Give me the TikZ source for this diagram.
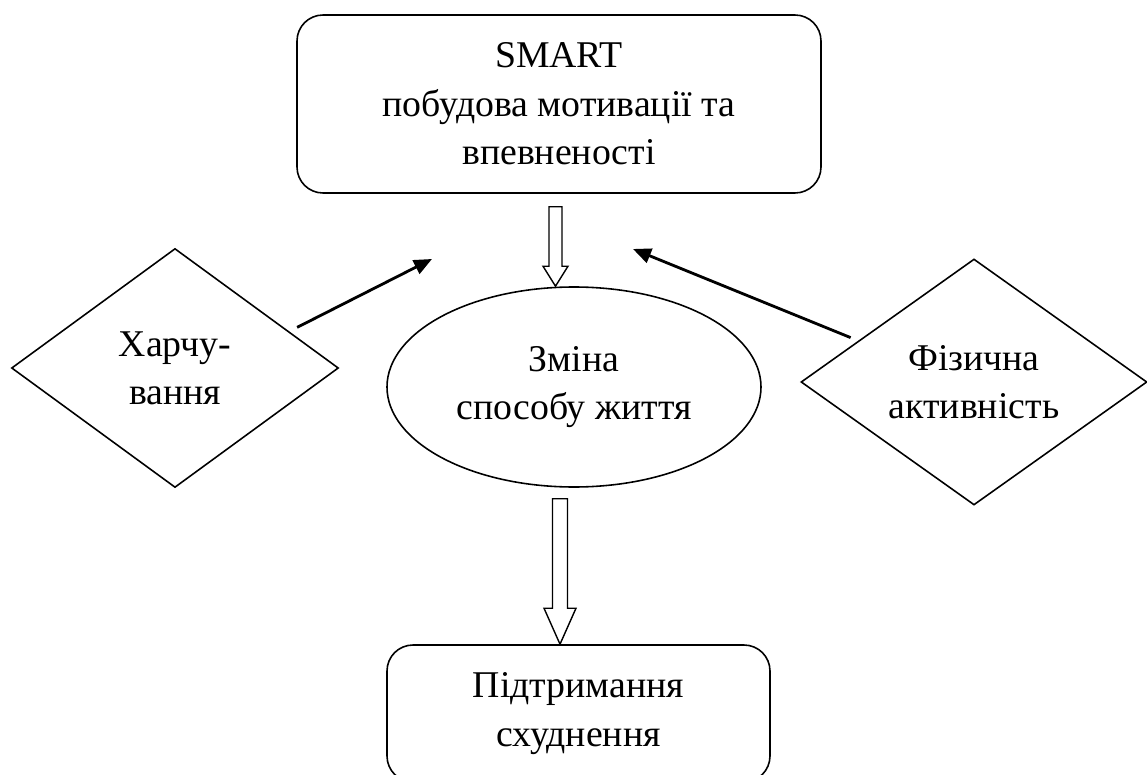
\documentclass[tikz,border=0pt]{standalone}
\usepackage{fontspec}
\setmainfont{Liberation Serif}
\usetikzlibrary{shapes.geometric,arrows.meta,calc}

\tikzset{
    box/.style={draw, line width=0.9pt, rounded corners=0.52cm, align=center, inner sep=0pt},
    rhomb/.style={draw, diamond, aspect=1.4, line width=0.9pt, align=center, inner sep=0pt},
    oval/.style={draw, ellipse, line width=0.9pt, align=center, inner sep=0pt},
    push/.style={line width=1.6pt, -{Triangle[length=0.36cm,width=0.3cm]}},
    hollow/.style={line width=0.8pt, line join=miter}
}

\begin{document}
\begin{tikzpicture}[font=\fontsize{21.5}{27.5}\selectfont]
    \useasboundingbox (0,0) rectangle (22.94,-15.5);

    \node[box, minimum width=10.48cm, minimum height=3.56cm] (smart) at (11.18,-2.08) {SMART\\побудова мотивації та\\впевненості};

    \node[oval, minimum width=7.48cm, minimum height=4cm] (change) at (11.48,-7.74) {Зміна\\способу життя};

    \node[rhomb, minimum width=6.54cm, minimum height=4.78cm] (food) at (3.5,-7.36) {Харчу-\\вання};

    \node[rhomb, minimum width=6.92cm, minimum height=4.92cm] (sport) at (19.48,-7.64) {Фізична\\активність};

    \node[box, minimum width=7.66cm, minimum height=2.74cm] (keep) at (11.57,-14.27) {Підтримання\\схуднення};

    \coordinate (a1) at ($(smart.south)+(-0.07,-0.26)$);
    \coordinate (a2) at (a1 |- change.north);
    \draw[hollow] ($(a1)+(-0.13,0)$) -- ($(a2)+(-0.13,0.4)$) -- ($(a2)+(-0.25,0.4)$) -- (a2) -- ($(a2)+(0.25,0.4)$) -- ($(a2)+(0.13,0.4)$) -- ($(a1)+(0.13,0)$) -- cycle;

    \coordinate (b1) at ($(change.south)+(-0.28,-0.22)$);
    \coordinate (b2) at (b1 |- keep.north);
    \draw[hollow] ($(b1)+(-0.15,0)$) -- ($(b2)+(-0.15,0.72)$) -- ($(b2)+(-0.32,0.72)$) -- (b2) -- ($(b2)+(0.32,0.72)$) -- ($(b2)+(0.15,0.72)$) -- ($(b1)+(0.15,0)$) -- cycle;

    \coordinate (foodtip) at (8.64,-5.18);
    \draw[push] ($(food.north east)+(0.8,-0.39)$) -- (foodtip);

    \coordinate (sporttip) at (12.66,-4.98);
    \draw[push] ($(sport.north west)+(-0.73,-0.35)$) -- (sporttip);

\end{tikzpicture}
\end{document}
